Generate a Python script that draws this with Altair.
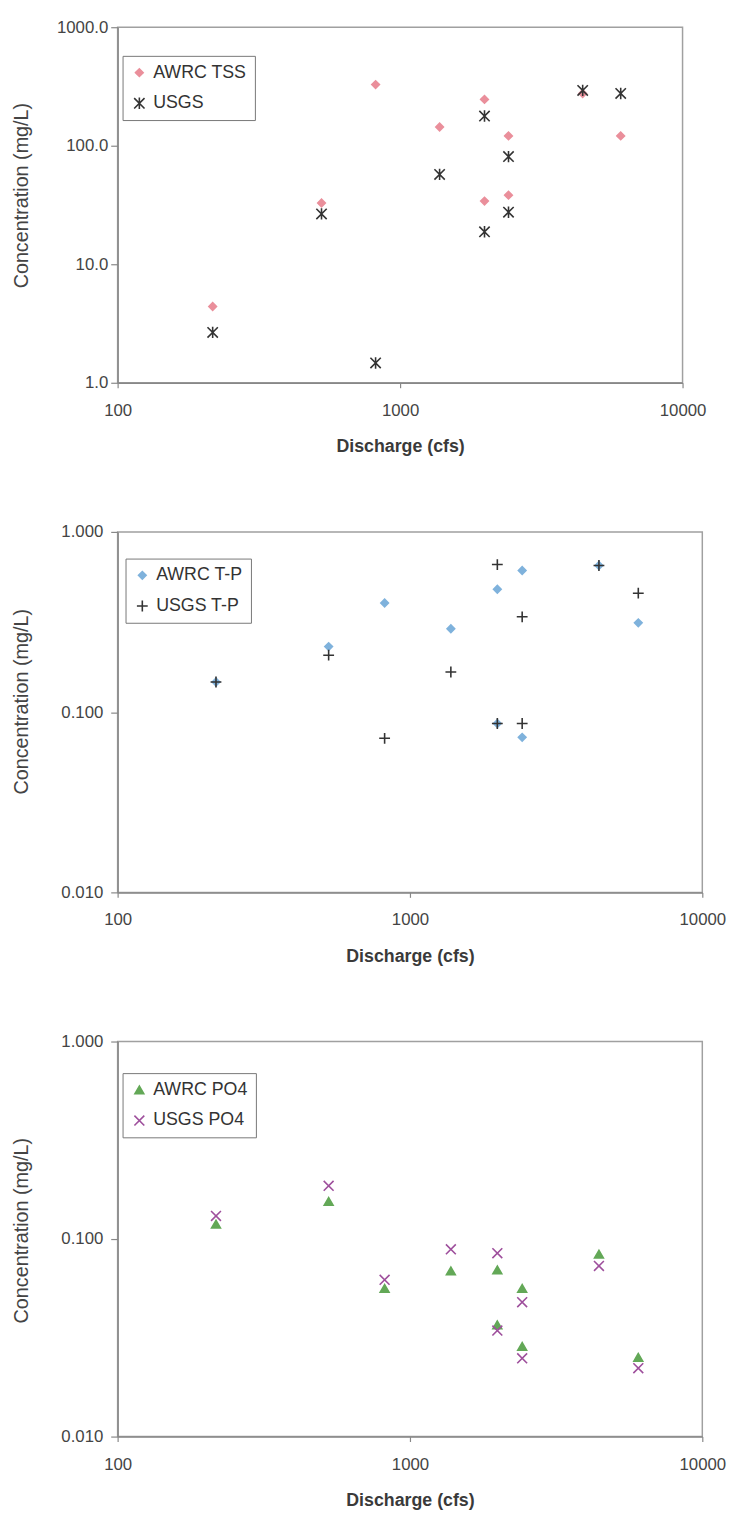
import altair as alt
import pandas as pd

# ---- data ----
discharge = [217, 527, 819, 1380, 1990, 1990, 2420, 2420, 4430, 6040]

tss_awrc = [4.4, 32.9, 328, 144, 246, 34.1, 121, 38.3, 276, 121]
tss_usgs = [2.66, 26.6, 1.47, 57.3, 178, 18.8, 81, 27.5, 293, 276]

tp_awrc = [0.147, 0.231, 0.403, 0.290, 0.481, 0.0865, 0.611, 0.0725, 0.651, 0.313]
tp_usgs = [0.147, 0.207, 0.0716, 0.167, 0.659, 0.0865, 0.338, 0.0865, 0.651, 0.457]

po4_awrc = [0.119, 0.155, 0.0562, 0.069, 0.0698, 0.0368, 0.0562, 0.0286, 0.0838, 0.0252]
po4_usgs = [0.131, 0.186, 0.0622, 0.0887, 0.0848, 0.0344, 0.0479, 0.0249, 0.0731, 0.0222]

names1 = ["AWRC TSS", "USGS"]
names2 = ["AWRC T-P", "USGS T-P"]
names3 = ["AWRC PO4", "USGS PO4"]

x_ticks = [100, 1000, 10000]
y_ticks1 = [1, 10, 100, 1000]
y_ticks23 = [0.01, 0.1, 1]

FONT = "Liberation Sans"
STAR = "M-1,-1L1,1M-1,1L1,-1M0,-1.1L0,1.1"
PLUS = "M-1,0L1,0M0,-1L0,1"
CROSS = "M-1,-1L1,1M-1,1L1,-1"


def make_df(a, b, names):
    rows = []
    for q, v in zip(discharge, a):
        rows.append({"Discharge": q, "Conc": v, "Series": names[0]})
    for q, v in zip(discharge, b):
        rows.append({"Discharge": q, "Conc": v, "Series": names[1]})
    return pd.DataFrame(rows)


def panel(df, names, shapes, fills, strokes, sizes, ydom, yvals, yfmt,
          ylabpad, ytitlepad, width, height, lx, ly, title_shift):
    leg = alt.Legend(title=None, orient="none", legendX=lx, legendY=ly,
                     labelFont=FONT, labelFontSize=18, labelColor="#333",
                     strokeColor="#777", fillColor="white", padding=8,
                     rowPadding=13, labelOffset=5, symbolStrokeWidth=1.6)
    return alt.Chart(df).mark_point(opacity=1, strokeWidth=1.6).encode(
        x=alt.X("Discharge:Q",
                scale=alt.Scale(type="log", domain=[100, 10000], nice=False),
                axis=alt.Axis(values=x_ticks, format="d", title="Discharge (cfs)",
                              tickSize=5, labelPadding=15, titlePadding=20,
                              titleFontWeight="bold", titleFontSize=18,
                              labelFlush=False, labelOverlap=False)),
        y=alt.Y("Conc:Q",
                scale=alt.Scale(type="log", domain=ydom, nice=False),
                axis=alt.Axis(values=yvals, format=yfmt, title="Concentration (mg/L)",
                              tickSize=7, labelPadding=ylabpad, titlePadding=ytitlepad,
                              titleY=height / 2 - title_shift,
                              titleFontWeight="normal", titleFontSize=20, titleColor="#444",
                              labelFlush=False, labelOverlap=False)),
        shape=alt.Shape("Series:N", scale=alt.Scale(domain=names, range=shapes), legend=leg),
        fill=alt.Fill("Series:N", scale=alt.Scale(domain=names, range=fills), legend=leg),
        stroke=alt.Stroke("Series:N", scale=alt.Scale(domain=names, range=strokes), legend=leg),
        size=alt.Size("Series:N", scale=alt.Scale(domain=names, range=sizes), legend=leg),
    ).properties(width=width, height=height)


p1 = panel(make_df(tss_awrc, tss_usgs, names1), names1,
           ["diamond", STAR], ["#ea8f9b", "transparent"], ["#ea8f9b", "#333333"],
           [60, 110], [1, 1000], y_ticks1, ".1f", 3, 25, 572, 360, 5, 29, 10)

p2 = panel(make_df(tp_awrc, tp_usgs, names2), names2,
           ["diamond", PLUS], ["#7fb2dc", "transparent"], ["#7fb2dc", "#333333"],
           [60, 120], [0.01, 1], y_ticks23, ".3f", 8, 30, 592, 365, 8, 27, 11)

p3 = panel(make_df(po4_awrc, po4_usgs, names3), names3,
           ["triangle-up", CROSS], ["#63a857", "transparent"], ["#63a857", "#9e4f9c"],
           [80, 100], [0.01, 1], y_ticks23, ".3f", 8, 30, 592, 400, 5, 32, 9)

chart = alt.vconcat(p1, p2, p3, spacing=151, bounds="flush").resolve_scale(
    shape="independent", fill="independent", stroke="independent", size="independent",
    x="independent", y="independent",
).resolve_legend(
    shape="independent", fill="independent", stroke="independent", size="independent",
).properties(
    padding={"left": 2, "top": 0, "right": 0, "bottom": 0}
).configure(font=FONT).configure_view(
    stroke="#a0a0a0", strokeWidth=1.5
).configure_axis(
    grid=False, domainColor="#888", domainWidth=1.5, tickColor="#888", tickWidth=1.2,
    labelFont=FONT, labelFontSize=17, labelColor="#444",
    titleFont=FONT, titleColor="#3a3a3a",
)

chart.save("out.html", embed_options={"renderer": "svg", "actions": False})
